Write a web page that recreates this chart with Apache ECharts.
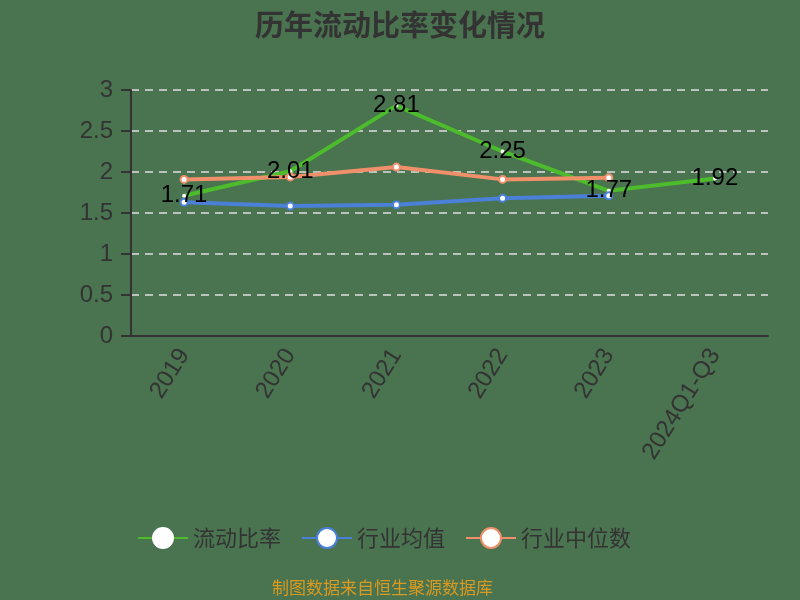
<!DOCTYPE html>
<html><head><meta charset="utf-8">
<script src="https://cdn.jsdelivr.net/npm/echarts@6/dist/echarts.min.js"></script>
<style>html,body{margin:0;padding:0;background:#4a7350;}#c{width:800px;height:600px;}</style>
</head><body><div id="c"></div>
<script>
const categories = ['2019','2020','2021','2022','2023','2024Q1-Q3'];
const currentRatio = [1.71, 2.01, 2.81, 2.25, 1.77, 1.92];
const industryMean = [1.63, 1.585, 1.60, 1.68, 1.71];
const industryMedian = [1.91, 1.94, 2.06, 1.91, 1.93];
const yTicks = [0, 0.5, 1, 1.5, 2, 2.5, 3];

const green = '#4cbb2c', blue = '#4a80d8', orange = '#f0906a';
const chart = echarts.init(document.getElementById('c'));
chart.setOption({
  backgroundColor: '#4a7350',
  title: {text: '历年流动比率变化情况', left: 'center', top: 5,
    textStyle: {fontSize: 29, fontWeight: 'bold', color: '#333', fontFamily: 'Noto Sans CJK SC'}},
  legend: {top: 522, left: 132, itemWidth: 50, itemHeight: 25, itemGap: 20,
    textStyle: {fontSize: 22, color: '#333', fontFamily: 'Noto Sans CJK SC'},
    data: ['流动比率','行业均值','行业中位数']},
  graphic: [{type: 'text', left: 272, top: 579,
    style: {text: '制图数据来自恒生聚源数据库', fill: '#d89a20', fontSize: 17, fontFamily: 'Noto Sans CJK SC'}}],
  grid: {left: 131, right: 32, top: 90, bottom: 264},
  xAxis: {type: 'category', data: categories, boundaryGap: true,
    axisLine: {lineStyle: {color: '#333', width: 2}},
    axisTick: {lineStyle: {color: '#333', width: 2}, length: 6},
    axisLabel: {rotate: 58, fontSize: 24, color: '#333', margin: 15, fontFamily: 'Liberation Sans'}},
  yAxis: {type: 'value', min: 0, max: 3, interval: 0.5,
    axisLine: {show: true, lineStyle: {color: '#333', width: 2}},
    axisTick: {show: true, lineStyle: {color: '#333', width: 2}, length: 10},
    axisLabel: {fontSize: 24, color: '#333', margin: 18, fontFamily: 'Liberation Sans',
      formatter: v => yTicks.includes(v) ? String(v) : ''},
    splitLine: {lineStyle: {color: '#e0e0e0', type: [8, 6], width: 1.5}}},
  series: [
    {name: '流动比率', type: 'line', data: currentRatio, color: green,
      symbol: 'emptyCircle', symbolSize: 2, showSymbol: true,
      lineStyle: {width: 4, color: green},
      itemStyle: {color: '#fff', borderColor: green, borderWidth: 2},
      label: {show: true, position: 'inside', offset: [0, 0], fontSize: 24, color: '#000', fontFamily: 'Liberation Sans'},
      z: 3},
    {name: '行业均值', type: 'line', data: industryMean, color: blue,
      symbol: 'circle', symbolSize: 7, lineStyle: {width: 4, color: blue},
      itemStyle: {color: '#fff', borderColor: blue, borderWidth: 2}},
    {name: '行业中位数', type: 'line', data: industryMedian, color: orange,
      symbol: 'circle', symbolSize: 7, lineStyle: {width: 4, color: orange},
      itemStyle: {color: '#fff', borderColor: orange, borderWidth: 2}}
  ]
});
</script></body></html>
